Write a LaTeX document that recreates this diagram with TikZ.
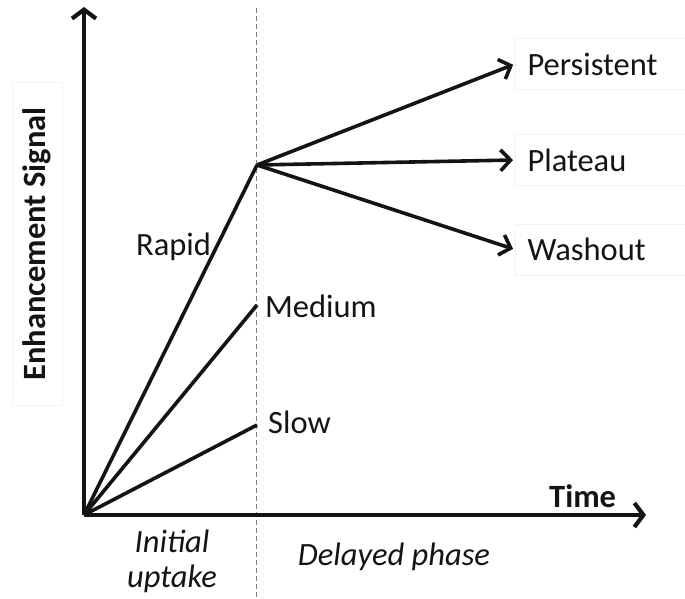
\documentclass[tikz,border=0pt]{standalone}
\usepackage{fontspec}
\setmainfont{Carlito}
\usetikzlibrary{arrows.meta}
\definecolor{boxline}{HTML}{F2F2F2}
\definecolor{ink}{HTML}{141414}
\newcommand{\lblsize}{\fontsize{32.5}{39}\selectfont}
\tikzset{
  axis/.style={line width=4.2pt, ink, -{Straight Barb[length=9pt,width=24pt]}},
  curve/.style={line width=3.6pt, ink},
  curvearrow/.style={curve, -{Straight Barb[length=10pt,width=21pt]}, shorten >=2pt},
  phase/.style={gray, line width=1pt, dash pattern=on 5pt off 3pt},
  lbl/.style={font=\lblsize, text=ink, inner sep=0pt},
  outcome/.style={lbl, draw=boxline, line width=1pt, anchor=west,
    minimum height=51pt, text width=160pt, inner xsep=12pt, align=left},
}
\begin{document}
\begin{tikzpicture}[x=1pt,y=-1pt]
  \useasboundingbox (0,0) rectangle (685,599);

  % key points
  \coordinate (O) at (84,515);
  \coordinate (ytop) at (84,7);
  \coordinate (xend) at (646,515);
  \coordinate (knee) at (257,165);
  \coordinate (med) at (257,305);
  \coordinate (slow) at (257,425);
  \coordinate (ptop) at (256,8);
  \coordinate (pbot) at (256,599);

  % boundary between the two phases
  \draw[phase] (ptop) -- (pbot);

  % outcome labels in light frames
  \node[outcome] (pers) at (515,64) {Persistent};
  \node[outcome] (plat) at (515,160) {Plateau};
  \node[outcome] (wash) at (515,249.5) {Washout};

  % y-axis title
  \node[draw=boxline, line width=1pt, minimum width=50pt, minimum height=322pt,
        inner sep=0pt] (ybox) at (37,244) {};
  \node[lbl, font=\lblsize\bfseries, rotate=90] (ylab) at (ybox.center) {Enhancement Signal};

  % axes
  \draw[axis] (O) -- (ytop);
  \draw[axis] (O) -- (xend);

  % uptake curves
  \draw[curve] (O) -- (knee);
  \draw[curve] (O) -- (med);
  \draw[curve] (O) -- (slow);

  % delayed-phase behaviour
  \draw[curvearrow] (knee) -- (pers.west);
  \draw[curvearrow] (knee) -- (plat.west);
  \draw[curvearrow] (knee) -- (wash.west);

  % curve labels
  \node[lbl, anchor=base west] (rapid) at (136,255) {Rapid};
  \node[lbl, anchor=base west] (medium) at (265,317) {Medium};
  \node[lbl, anchor=base west] (slowl) at (268,433) {Slow};
  \node[lbl, anchor=base west, font=\lblsize\bfseries] (time) at (549,507) {Time};

  % phase labels
  \node[lbl, anchor=base, font=\lblsize\itshape] (init1) at (172,552) {Initial};
  \node[lbl, anchor=base, font=\lblsize\itshape] (init2) at (172,587) {uptake};
  \node[lbl, anchor=base, font=\lblsize\itshape] (delay) at (394,565) {Delayed phase};
\end{tikzpicture}
\end{document}
